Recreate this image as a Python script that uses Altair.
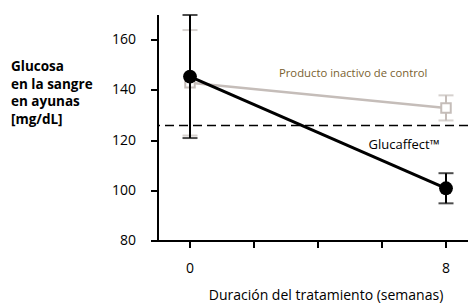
import altair as alt
import pandas as pd

weeks = [0, 8]
gluc_mean = [145.5, 101]
gluc_low = [121, 95]
gluc_high = [170, 107]
ctrl_mean = [143, 133]
ctrl_low = [122, 128]
ctrl_high = [164, 138]
threshold = 126
x_ticks = [0, 2, 4, 6, 8]
y_ticks = [80, 100, 120, 140, 160]
y_title = ["Glucosa", "en la sangre", "en ayunas", "[mg/dL]"]
x_title = "Duración del tratamiento (semanas)"
labels = ["Producto inactivo de control", "Glucaffect™"]
label_x = [5.1, 6.69]
label_y = [146.4, 118.4]
label_size = [11.3, 13]

FONT = "Open Sans"
GRAY = "#c5bdb9"
BROWN = "#7a5f30"

gluc = pd.DataFrame({"w": weeks, "m": gluc_mean, "lo": gluc_low, "hi": gluc_high})
ctrl = pd.DataFrame({"w": weeks, "m": ctrl_mean, "lo": ctrl_low, "hi": ctrl_high})
lab = pd.DataFrame({"t": labels, "x": label_x, "y": label_y, "s": label_size,
                    "c": [BROWN, "#000000"]})

xs = alt.Scale(domain=[-1, 8.6875], nice=False, zero=False)
ys = alt.Scale(domain=[80, 170], nice=False, zero=False)

x_axis = alt.Axis(
    values=x_ticks, labelExpr="datum.value == 0 || datum.value == 8 ? datum.label : ''",
    title=x_title, labelPadding=14, labelFontSize=14, titleFontSize=14,
    titleFontWeight="normal", titleX=168, titleY=55, titleAlign="center",
    titleBaseline="middle", domainColor="black", tickColor="black", translate=0)
y_axis = alt.Axis(
    values=y_ticks, title=y_title, labelPadding=15, labelFontSize=14,
    titleFontSize=13.5, titleFontWeight="bold", titleAngle=0, titleAlign="left",
    titleBaseline="top", titleX=-147, titleY=45, titleLineHeight=17.5,
    domainColor="black", tickColor="black", translate=0)


def xe(f):
    return alt.X(f"{f}:Q", scale=xs, axis=x_axis)


def ye(f):
    return alt.Y(f"{f}:Q", scale=ys, axis=y_axis)


def series(df, color, line_w, point):
    base = alt.Chart(df)
    line = base.mark_line(color=color, strokeWidth=line_w).encode(x=xe("w"), y=ye("m"))
    rule = base.mark_rule(color=color, strokeWidth=2).encode(
        x=xe("w"), y=ye("lo"), y2="hi:Q")
    cap_lo = base.mark_tick(color=color, orient="horizontal", size=15, thickness=2).encode(
        x=xe("w"), y=ye("lo"))
    cap_hi = base.mark_tick(color=color, orient="horizontal", size=15, thickness=2).encode(
        x=xe("w"), y=ye("hi"))
    return [rule, cap_lo, cap_hi, line, point(base)]


ctrl_layers = series(ctrl, GRAY, 2.5, lambda b: b.mark_point(
    shape="square", size=90, filled=True, fill="white", stroke=GRAY, strokeWidth=2,
    opacity=1).encode(x=xe("w"), y=ye("m")))
gluc_layers = series(gluc, "black", 3, lambda b: b.mark_circle(
    size=190, color="black", opacity=1).encode(x=xe("w"), y=ye("m")))

dash = alt.Chart(pd.DataFrame({"v": [threshold]})).mark_rule(
    color="black", strokeWidth=1.5, strokeDash=[9, 5]).encode(y=ye("v"))

text = alt.Chart(lab).mark_text(font=FONT, baseline="middle", align="center").encode(
    x=xe("x"), y=ye("y"), text="t:N", size=alt.Size("s:Q", scale=None),
    color=alt.Color("c:N", scale=None))

chart = alt.layer(*ctrl_layers, *gluc_layers, dash, text).properties(
    width=310, height=226,
    autosize=alt.AutoSizeParams(type="none"),
    padding={"left": 150, "top": 7, "right": 0, "bottom": 65},
).configure_view(stroke=None).configure_axis(
    grid=False, domainColor="black", domainWidth=2, tickColor="black", tickWidth=2,
    tickSize=7, labelFont=FONT, titleFont=FONT, labelColor="black", titleColor="black",
)

chart.save("out.html", embed_options={"renderer": "svg", "actions": False})
